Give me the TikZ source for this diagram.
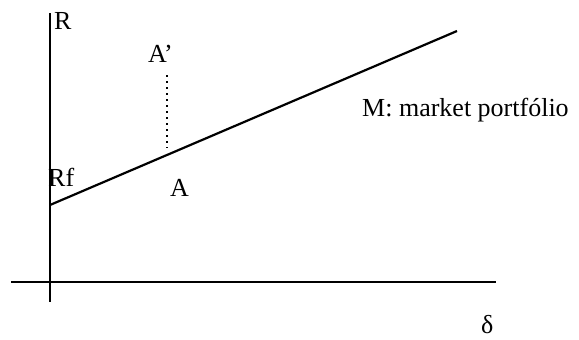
\documentclass[tikz,border=0pt]{standalone}
\usepackage{fontspec}
\setmainfont{Liberation Serif}
\begin{document}
\begin{tikzpicture}[x=1pt,y=-1pt,
  axis/.style={line width=1.8pt},
  cml/.style={line width=2.2pt},
  guide/.style={line width=1.8pt,dash pattern=on 2pt off 4pt},
  lbl/.style={inner sep=0pt,anchor=base west,font=\fontsize{26}{30}\selectfont}]
\useasboundingbox (0,0) rectangle (579,340);
\coordinate (ytop) at (50,13);
\coordinate (ybot) at (50,302);
\coordinate (xl) at (11,282);
\coordinate (xr) at (496,282);
\coordinate (rf) at (50,205);
\coordinate (m) at (457,31);
\coordinate (ap) at (167,75);
\coordinate (a) at (167,148);
\draw[axis] (ytop) -- (ybot);
\draw[axis] (xl) -- (xr);
\draw[cml] (rf) -- (m);
\draw[guide] (ap) -- (a);
\node[lbl] (R) at (54,30) {R};
\node[lbl] (Ap) at (148,62) {A’};
\node[lbl] (Rf) at (48,186) {Rf};
\node[lbl] (A) at (170,196) {A};
\node[lbl] (M) at (362,116) {M: market portfólio};
\node[lbl] (d) at (481,333) {δ};
\end{tikzpicture}
\end{document}
